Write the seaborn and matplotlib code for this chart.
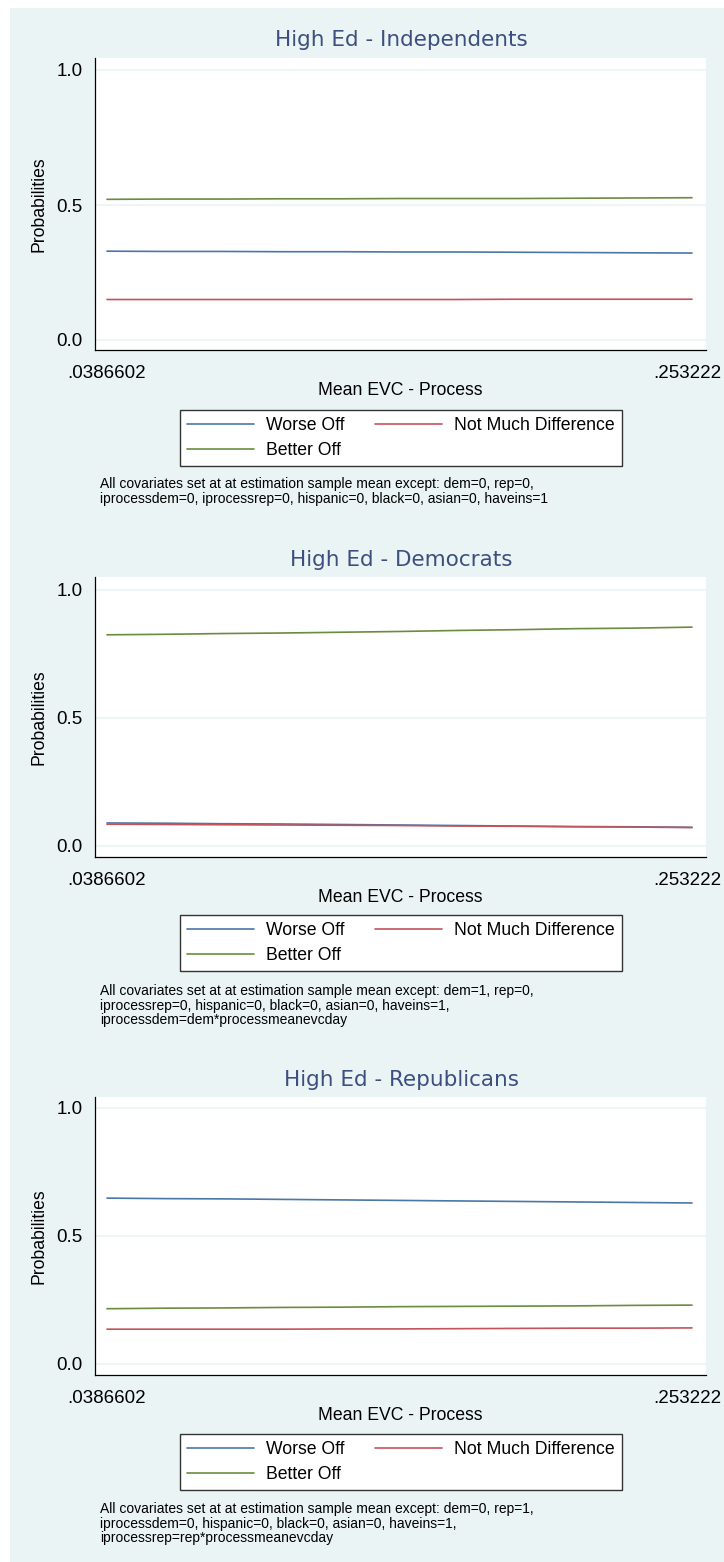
import numpy as np
import pandas as pd
import seaborn as sns
from matplotlib import pyplot as plt
from matplotlib.patches import Rectangle
from matplotlib.transforms import ScaledTranslation

# x grid (mean EVC - process)
evc = [0.0386602, 0.0601164, 0.0815726, 0.1030288, 0.1244850, 0.1459412,
       0.1673974, 0.1888536, 0.2103098, 0.2317660, 0.2532220]

outcomes = ["Worse Off", "Not Much Difference", "Better Off"]

# High Ed - Independents
ind_worse = [0.329, 0.328, 0.328, 0.327, 0.327, 0.326, 0.326, 0.325, 0.324, 0.323, 0.322]
ind_nmd = [0.150, 0.150, 0.150, 0.150, 0.150, 0.150, 0.150, 0.151, 0.151, 0.151, 0.151]
ind_better = [0.521, 0.522, 0.522, 0.523, 0.523, 0.524, 0.524, 0.524, 0.525, 0.526, 0.527]

# High Ed - Democrats
dem_worse = [0.090, 0.089, 0.087, 0.086, 0.084, 0.082, 0.080, 0.078, 0.076, 0.075, 0.073]
dem_nmd = [0.085, 0.084, 0.083, 0.082, 0.081, 0.080, 0.078, 0.077, 0.075, 0.074, 0.072]
dem_better = [0.825, 0.827, 0.830, 0.832, 0.835, 0.838, 0.842, 0.845, 0.849, 0.851, 0.855]

# High Ed - Republicans
rep_worse = [0.648, 0.646, 0.645, 0.643, 0.641, 0.639, 0.637, 0.635, 0.633, 0.631, 0.629]
rep_nmd = [0.136, 0.136, 0.136, 0.136, 0.137, 0.137, 0.138, 0.139, 0.140, 0.140, 0.141]
rep_better = [0.216, 0.218, 0.219, 0.221, 0.222, 0.224, 0.225, 0.226, 0.227, 0.229, 0.230]

titles = ["High Ed - Independents", "High Ed - Democrats", "High Ed - Republicans"]
notes = [
    "All covariates set at at estimation sample mean except: dem=0, rep=0,\n"
    "iprocessdem=0, iprocessrep=0, hispanic=0, black=0, asian=0, haveins=1",
    "All covariates set at at estimation sample mean except: dem=1, rep=0,\n"
    "iprocessrep=0, hispanic=0, black=0, asian=0, haveins=1,\n"
    "iprocessdem=dem*processmeanevcday",
    "All covariates set at at estimation sample mean except: dem=0, rep=1,\n"
    "iprocessdem=0, hispanic=0, black=0, asian=0, haveins=1,\n"
    "iprocessrep=rep*processmeanevcday",
]
panels = [
    (ind_worse, ind_nmd, ind_better),
    (dem_worse, dem_nmd, dem_better),
    (rep_worse, rep_nmd, rep_better),
]

palette = {"Worse Off": "#4a77a8", "Not Much Difference": "#c4535b", "Better Off": "#6a8c3f"}
bg = "#eaf4f4"

sns.set_style("white")
plt.rcParams["font.family"] = ["Liberation Sans", "DejaVu Sans"]
plt.rcParams["text.color"] = "black"
plt.rcParams["axes.labelcolor"] = "black"
plt.rcParams["xtick.color"] = "black"
plt.rcParams["ytick.color"] = "black"

W, H = 724, 1562
fig = plt.figure(figsize=(W / 100, H / 100), dpi=100)
fig.patch.set_facecolor("white")
fig.add_artist(Rectangle((10 / W, 0), 1 - 10 / W, 1 - 8 / H,
                         transform=fig.transFigure, facecolor=bg,
                         edgecolor="none", zorder=0))

# pixel layout: (axes top, axes bottom, zero-line y, px per unit, title y, legend top, note top)
layout = [
    (58, 350, 340, 270, 40, 410, 477),
    (577, 857, 846, 256, 560, 915, 984),
    (1097, 1375, 1364, 256, 1080, 1434, 1502),
]

x0, x1 = evc[0], evc[-1]
px_per = (x1 - x0) / (692 - 107)
left_px, right_px = 95, 706

for (worse, nmd, better), title, note, (top, bot, zero, unit, ty, lt, nt) in zip(panels, titles, notes, layout):
    ax = fig.add_axes([left_px / W, 1 - bot / H, (right_px - left_px) / W, (bot - top) / H])
    ax.set_facecolor("white")
    df = pd.DataFrame({
        "evc": evc * 3,
        "prob": worse + nmd + better,
        "outcome": np.repeat(outcomes, len(evc)),
    })
    sns.lineplot(data=df, x="evc", y="prob", hue="outcome", hue_order=outcomes,
                 palette=palette, linewidth=1.2, ax=ax, zorder=3)

    ax.set_xlim(x0 - 12 * px_per, x1 + 14 * px_per)
    ax.set_ylim(-(bot - zero) / unit, (zero - top) / unit)
    ax.set_yticks([0, 0.5, 1.0])
    ax.set_yticklabels(["0.0", "0.5", "1.0"])
    ax.set_xticks([x0, x1])
    ax.set_xticklabels([".0386602", ".253222"])
    ax.grid(axis="y", color=bg, linewidth=1.2, zorder=1)
    ax.grid(axis="x", visible=False)
    for s in ["top", "right"]:
        ax.spines[s].set_visible(False)
    for s in ["left", "bottom"]:
        ax.spines[s].set_color("black")
        ax.spines[s].set_linewidth(0.9)
    ax.tick_params(axis="both", direction="out", length=5, width=0.9,
                   color="black", labelsize=13.5, pad=4)
    ax.tick_params(axis="x", length=6, pad=5)
    last = ax.get_xticklabels()[-1]
    last.set_transform(last.get_transform() + ScaledTranslation(-5 / 100, 0, fig.dpi_scale_trans))
    ax.set_xlabel("Mean EVC - Process", fontsize=12.7, labelpad=0)
    ax.set_ylabel("Probabilities", fontsize=12.7, labelpad=6)
    fig.text(401 / W, 1 - ty / H, title, ha="center", va="center",
             fontsize=15.5, color="#3d4f7f", family=["DejaVu Sans"])

    handles, labels = ax.get_legend_handles_labels()
    order = [0, 2, 1]  # row-major: Worse Off, Not Much Difference / Better Off
    ax.legend([handles[i] for i in order], [labels[i] for i in order], ncol=2,
              loc="upper center", bbox_to_anchor=(401 / W, 1 - lt / H),
              bbox_transform=fig.transFigure, borderaxespad=0,
              frameon=True, fancybox=False, edgecolor="#333333", facecolor="white",
              framealpha=1, fontsize=12.7, handlelength=3.8, handletextpad=0.7,
              columnspacing=1.7, borderpad=0.4, labelspacing=0.45)
    ax.get_legend().get_frame().set_linewidth(1.0)

    fig.text(100 / W, 1 - nt / H, note, ha="left", va="top", fontsize=10,
             linespacing=1.05)

fig.savefig("out.png", dpi=100)
